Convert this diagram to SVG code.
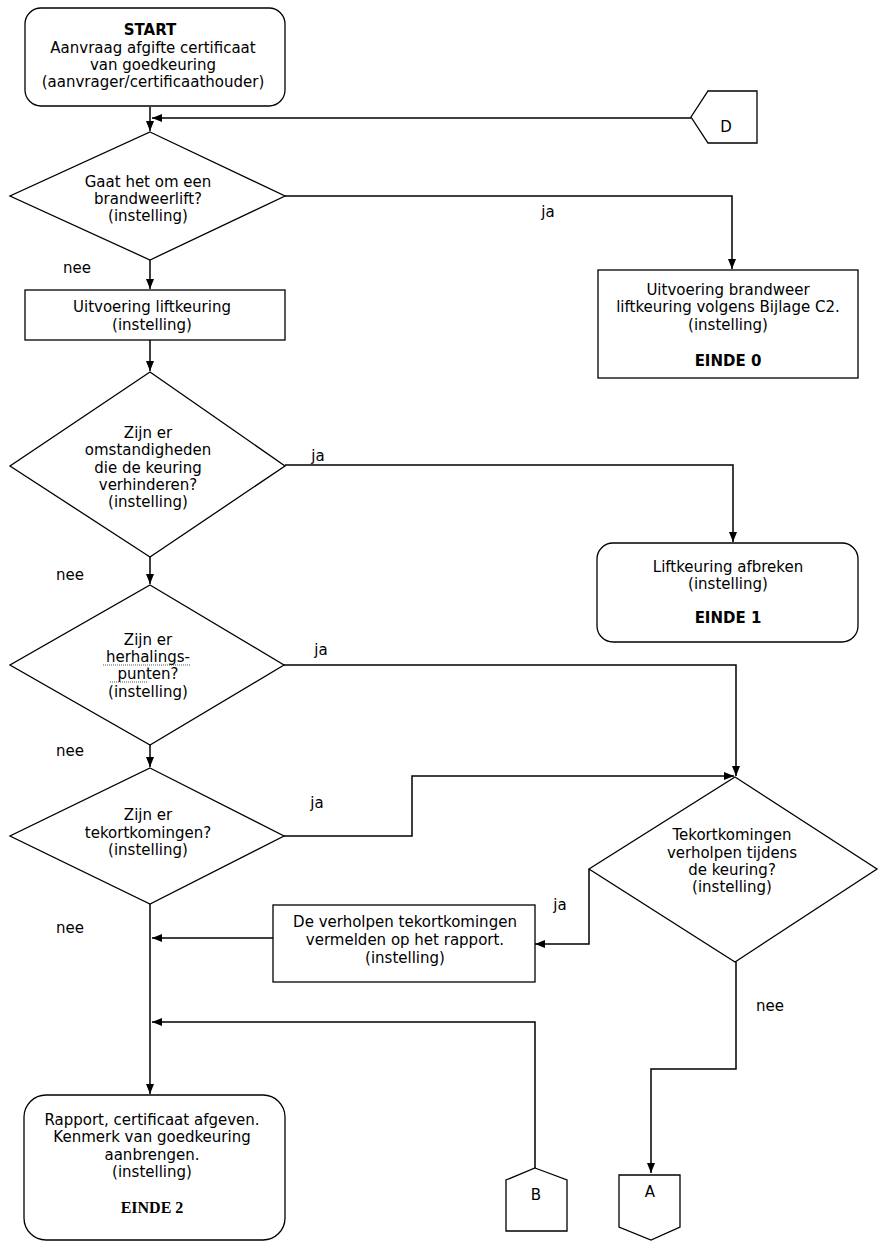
<svg xmlns="http://www.w3.org/2000/svg" width="886" height="1246" viewBox="0 0 886 1246">
<style>
.shape{fill:#fff;stroke:#000;stroke-width:1.3}
.t{font-family:"DejaVu Sans",Verdana,sans-serif;font-size:15px;fill:#000;text-anchor:middle}
.b{font-weight:bold}
.s{font-family:"Liberation Serif","Times New Roman",serif;font-size:16px;font-weight:bold;fill:#000;text-anchor:middle}
.c{fill:none;stroke:#000;stroke-width:1.5}
.sq{fill:none;stroke:#555;stroke-width:1;stroke-dasharray:1 1}
</style>
<defs>
<marker id="ah" markerUnits="userSpaceOnUse" markerWidth="11" markerHeight="9" refX="10" refY="4" orient="auto">
<path d="M0,0 L10,4 L0,8 z" fill="#000"/>
</marker>
</defs>
<rect width="886" height="1246" fill="#fff"/>

<g id="connectors">
<path class="c" d="M150,107 V131" marker-end="url(#ah)"/>
<path class="c" d="M691,118 H152" marker-end="url(#ah)"/>
<path class="c" d="M285,196 H732 V269" marker-end="url(#ah)"/>
<path class="c" d="M150,260 V289" marker-end="url(#ah)"/>
<path class="c" d="M150,340 V371" marker-end="url(#ah)"/>
<path class="c" d="M285,465 H733 V542" marker-end="url(#ah)"/>
<path class="c" d="M150,557 V584" marker-end="url(#ah)"/>
<path class="c" d="M284,665 H736 V776" marker-end="url(#ah)"/>
<path class="c" d="M150,745 V767" marker-end="url(#ah)"/>
<path class="c" d="M284,836 H412 V776 H734" marker-end="url(#ah)"/>
<path class="c" d="M150,904 V1094" marker-end="url(#ah)"/>
<path class="c" d="M589,869 V944 H535" marker-end="url(#ah)"/>
<path class="c" d="M273,938 H152" marker-end="url(#ah)"/>
<path class="c" d="M535,1168 V1022 H152" marker-end="url(#ah)"/>
<path class="c" d="M736,962 V1069 H651 V1173" marker-end="url(#ah)"/>
<text class="t" x="548" y="217">ja</text>
<text class="t" x="77" y="273">nee</text>
<text class="t" x="318" y="461">ja</text>
<text class="t" x="70" y="580">nee</text>
<text class="t" x="321" y="655">ja</text>
<text class="t" x="70" y="756">nee</text>
<text class="t" x="317" y="808">ja</text>
<text class="t" x="560" y="910">ja</text>
<text class="t" x="70" y="933">nee</text>
<text class="t" x="770" y="1011">nee</text>
</g>

<g id="start">
<rect class="shape" x="25" y="8" width="260" height="98" rx="16"/>
<text class="t b" x="150" y="35">START</text>
<text class="t" x="153" y="53">Aanvraag afgifte certificaat</text>
<text class="t" x="153" y="70">van goedkeuring</text>
<text class="t" x="153" y="87">(aanvrager/certificaathouder)</text>
</g>

<g id="connector-D">
<polygon class="shape" points="708,91 757,91 757,143 708,143 691,117"/>
<text class="t" x="726" y="132">D</text>
</g>

<g id="dec-brandweerlift">
<polygon class="shape" points="150,132 285,196 150,260 10,196"/>
<text class="t" x="148" y="187">Gaat het om een</text>
<text class="t" x="148" y="204">brandweerlift?</text>
<text class="t" x="148" y="221">(instelling)</text>
</g>

<g id="einde0">
<rect class="shape" x="598" y="270" width="260" height="108"/>
<text class="t" x="728" y="295">Uitvoering brandweer</text>
<text class="t" x="728" y="312">liftkeuring volgens Bijlage C2.</text>
<text class="t" x="728" y="330">(instelling)</text>
<text class="t b" x="728" y="366">EINDE 0</text>
</g>

<g id="liftkeuring">
<rect class="shape" x="25" y="290" width="260" height="50"/>
<text class="t" x="152" y="312">Uitvoering liftkeuring</text>
<text class="t" x="152" y="330">(instelling)</text>
</g>

<g id="dec-omstandigheden">
<polygon class="shape" points="150,372 285,466 150,557 10,466"/>
<text class="t" x="148" y="438">Zijn er</text>
<text class="t" x="148" y="455">omstandigheden</text>
<text class="t" x="148" y="473">die de keuring</text>
<text class="t" x="148" y="490">verhinderen?</text>
<text class="t" x="148" y="507">(instelling)</text>
</g>

<g id="einde1">
<rect class="shape" x="597" y="543" width="261" height="99" rx="16"/>
<text class="t" x="728" y="572">Liftkeuring afbreken</text>
<text class="t" x="728" y="589">(instelling)</text>
<text class="t b" x="728" y="623">EINDE 1</text>
</g>

<g id="dec-herhalingspunten">
<polygon class="shape" points="150,585 284,665 150,745 10,665"/>
<text class="t" x="148" y="645">Zijn er</text>
<text class="t" x="148" y="662">herhalings-</text>
<text class="t" x="148" y="679">punten?</text>
<text class="t" x="148" y="697">(instelling)</text>
<path class="sq" d="M103,665 H190 M110,682 H148"/>
</g>

<g id="dec-tekortkomingen">
<polygon class="shape" points="150,768 284,836 150,904 10,836"/>
<text class="t" x="148" y="820">Zijn er</text>
<text class="t" x="148" y="838">tekortkomingen?</text>
<text class="t" x="148" y="855">(instelling)</text>
</g>

<g id="dec-verholpen">
<polygon class="shape" points="735,777 877,869 735,962 589,869"/>
<text class="t" x="732" y="840">Tekortkomingen</text>
<text class="t" x="732" y="858">verholpen tijdens</text>
<text class="t" x="732" y="875">de keuring?</text>
<text class="t" x="732" y="892">(instelling)</text>
</g>

<g id="vermelden">
<rect class="shape" x="273" y="905" width="262" height="77"/>
<text class="t" x="405" y="927">De verholpen tekortkomingen</text>
<text class="t" x="405" y="945">vermelden op het rapport.</text>
<text class="t" x="405" y="963">(instelling)</text>
</g>

<g id="einde2">
<rect class="shape" x="24" y="1095" width="261" height="145" rx="22"/>
<text class="t" x="152" y="1125">Rapport, certificaat afgeven.</text>
<text class="t" x="152" y="1142">Kenmerk van goedkeuring</text>
<text class="t" x="152" y="1160">aanbrengen.</text>
<text class="t" x="152" y="1177">(instelling)</text>
<text class="s" x="152" y="1213">EINDE 2</text>
</g>

<g id="connector-B">
<polygon class="shape" points="535,1168 567,1180 567,1231 506,1231 506,1180"/>
<text class="t" x="536" y="1200">B</text>
</g>

<g id="connector-A">
<polygon class="shape" points="619,1175 680,1175 680,1227 651,1240 619,1227"/>
<text class="t" x="650" y="1197">A</text>
</g>
</svg>
